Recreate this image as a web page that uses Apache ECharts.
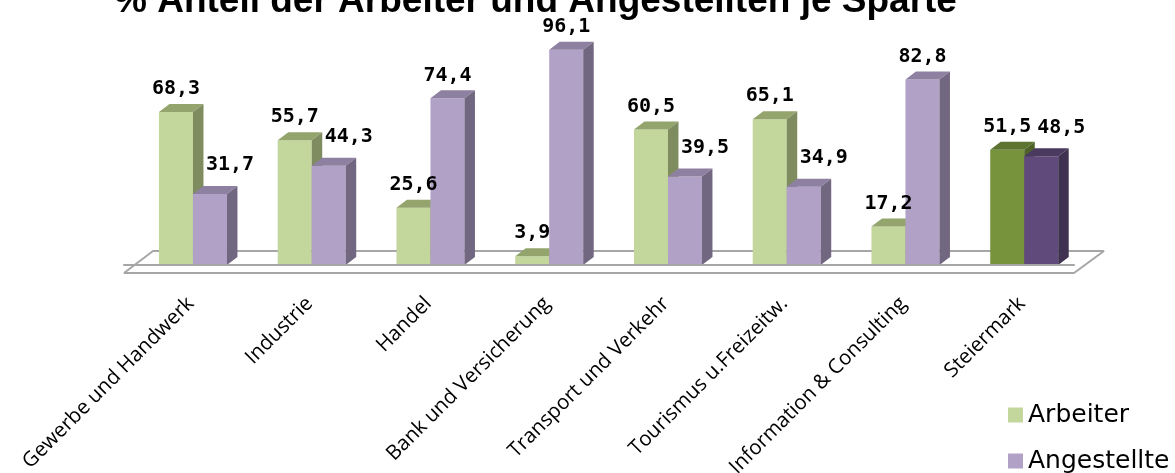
<!DOCTYPE html>
<html>
<head>
<meta charset="utf-8">
<script src="https://cdn.jsdelivr.net/npm/echarts@6/dist/echarts.min.js"></script>
<style>
  html, body { margin: 0; padding: 0; background: #fff; }
  #chart { width: 1175px; height: 473px; }
</style>
</head>
<body>
<div id="chart"></div>
<script>
// Daten
const categories = [
  'Gewerbe und Handwerk', 'Industrie', 'Handel', 'Bank und Versicherung',
  'Transport und Verkehr', 'Tourismus u.Freizeitw.', 'Information & Consulting', 'Steiermark'
];
const arbeiter = [68.3, 55.7, 25.6, 3.9, 60.5, 65.1, 17.2, 51.5];
const angestellte = [31.7, 44.3, 74.4, 96.1, 39.5, 34.9, 82.8, 48.5];

// Farben: [Front, Deckel, Seite]
const greenColors = ['#c3d69b', '#93a46d', '#7f8c5f'];
const greenDark = ['#77933c', '#5d7430', '#4f6228'];
const purpleColors = ['#b2a1c7', '#8d80a0', '#726780'];
const purpleDark = ['#604a7b', '#4a3a60', '#3f3150'];

const DX = 10.5;  // Tiefe nach rechts
const DY = 8;     // Tiefe nach oben
const BAR = 0.2863;   // Säulenbreite relativ zur Kategorie
const SHIFT = 0.2055; // linker Rand relativ zur Kategoriemitte

function fmt(v) {
  return v.toFixed(1).replace('.', ',');
}

// 3D-Säule zeichnen
function makeRenderItem(seriesNo) {
  return function (params, api) {
    const i = api.value(0);
    const v = api.value(1);
    const base = api.coord([i, 0]);
    const top = api.coord([i, v]);
    const band = api.size([1, 0])[0];
    const w = band * BAR;
    const x0 = base[0] - band * SHIFT + (seriesNo === 1 ? w : 0);
    const last = i === categories.length - 1;
    const col = seriesNo === 0
      ? (last ? greenDark : greenColors)
      : (last ? purpleDark : purpleColors);
    const y1 = top[1];
    const y0 = base[1];

    return {
      type: 'group',
      children: [
        {
          type: 'rect',
          shape: { x: x0, y: y1, width: w, height: y0 - y1 },
          style: { fill: col[0] }
        },
        {
          type: 'polygon',
          shape: { points: [[x0, y1], [x0 + DX, y1 - DY], [x0 + w + DX, y1 - DY], [x0 + w, y1]] },
          style: { fill: col[1] }
        },
        {
          type: 'polygon',
          shape: { points: [[x0 + w, y1], [x0 + w + DX, y1 - DY], [x0 + w + DX, y0 - DY], [x0 + w, y0]] },
          style: { fill: col[2] }
        }
      ]
    };
  };
}

// Datenbeschriftungen (eigene Serie, damit sie über allen Säulen liegen)
function renderLabels(params, api) {
  const i = api.value(0);
  const a = api.value(1);
  const b = api.value(2);
  const base = api.coord([i, 0]);
  const band = api.size([1, 0])[0];
  const w = band * BAR;
  const xg = base[0] - band * SHIFT + w / 2;
  const xp = xg + w;
  const ya = api.coord([i, a])[1];
  const yb = api.coord([i, b])[1];
  const font = { fontFamily: 'DejaVu Sans Mono', fontWeight: 'bold', fontSize: 20, fill: '#000' };
  const purpleLow = b < a;
  return {
    type: 'group',
    children: [
      {
        type: 'text',
        style: Object.assign({ x: xg, y: ya - 13, text: fmt(a), align: 'center', verticalAlign: 'bottom' }, font)
      },
      {
        type: 'text',
        style: Object.assign({
          x: purpleLow ? xp + 20 : xp,
          y: purpleLow ? yb - 19 : yb - 13,
          text: fmt(b), align: 'center', verticalAlign: 'bottom'
        }, font)
      }
    ]
  };
}

// Boden
function renderFloor(params) {
  const cs = params.coordSys;
  const yb = cs.y + cs.height;
  const x = cs.x;
  const w = cs.width;
  return {
    type: 'polygon',
    shape: { points: [[x, yb + 8], [x + 29, yb - 14], [x + w + 30, yb - 14], [x + w, yb + 8]] },
    style: { fill: '#fff', stroke: '#a6a6a6', lineWidth: 2, lineJoin: 'bevel' }
  };
}

const chart = echarts.init(document.getElementById('chart'));
chart.setOption({
  animation: false,
  title: {
    text: '% Anteil der Arbeiter und Angestellten je Sparte',
    left: 109,
    top: -22,
    textStyle: { fontFamily: 'Liberation Sans', fontWeight: 'bold', fontSize: 37, color: '#000' }
  },
  legend: {
    data: ['Arbeiter', 'Angestellte'],
    orient: 'vertical',
    left: 1003,
    top: 396,
    height: 100,
    icon: 'rect',
    itemWidth: 15,
    itemHeight: 15,
    itemGap: 18,
    textStyle: { fontFamily: 'DejaVu Sans', fontSize: 25, color: '#000', lineHeight: 28 }
  },
  grid: { left: 124, right: 101, top: 41, bottom: 208, outerBoundsMode: 'none' },
  xAxis: {
    type: 'category',
    data: categories,
    offset: 8,
    z: 5,
    axisLine: { lineStyle: { color: '#a6a6a6', width: 2 } },
    axisTick: { length: 6, lineStyle: { color: '#a6a6a6', width: 2 } },
    axisLabel: {
      rotate: 45,
      margin: 20,
      interval: 0,
      verticalAlign: 'top',
      fontFamily: 'Open Sans',
      fontSize: 20.5,
      color: '#000'
    }
  },
  yAxis: { type: 'value', min: 0, max: 100, show: false },
  series: [
    {
      type: 'custom',
      name: 'floor',
      silent: true,
      data: [[0, 0]],
      renderItem: renderFloor,
      z: 1
    },
    {
      type: 'custom',
      name: 'Arbeiter',
      itemStyle: { color: greenColors[0] },
      data: arbeiter.map((v, i) => [i, v]),
      encode: { x: 0, y: 1 },
      renderItem: makeRenderItem(0),
      z: 2
    },
    {
      type: 'custom',
      name: 'Angestellte',
      itemStyle: { color: purpleColors[0] },
      data: angestellte.map((v, i) => [i, v]),
      encode: { x: 0, y: 1 },
      renderItem: makeRenderItem(1),
      z: 3
    },
    {
      type: 'custom',
      name: 'labels',
      silent: true,
      data: categories.map((c, i) => [i, arbeiter[i], angestellte[i]]),
      encode: { x: 0, y: [1, 2] },
      renderItem: renderLabels,
      z: 10
    }
  ]
});
</script>
</body>
</html>
